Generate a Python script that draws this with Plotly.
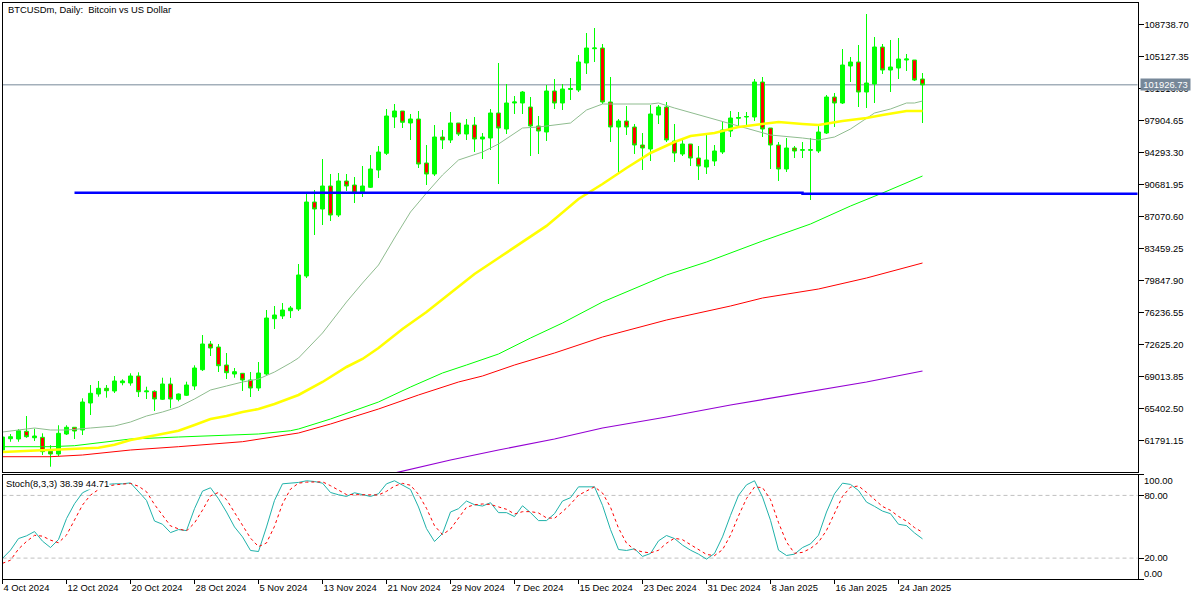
import pandas as pd
import plotly.graph_objects as go

# daily candles, 4 Oct 2024 -> 27 Jan 2025
dates = pd.date_range("2024-10-04", periods=116)

open_ = [60718, 61990, 61959, 62830, 62100, 62150, 60570, 60266, 62523, 63280,
         62974, 66020, 67037, 67680, 67376, 68310, 68278, 69068, 67285, 67340,
         66440, 68166, 66440, 66890, 67940, 69780, 72680, 72340, 70310, 69294,
         69372, 68617, 67714, 69294, 75534, 75839, 76437, 76629, 80353, 88704,
         87914, 90510, 87237, 91074, 90623, 89720, 90363, 92315, 94200, 98296,
         98974, 97620, 98071, 93105, 91864, 96040, 95701, 97620, 96378, 97394,
         95814, 95927, 98748, 96942, 99876, 99876, 99425, 97281, 96604, 101231,
         99876, 101400, 101344, 104390, 106004, 106083, 99989, 97168, 97845, 97168,
         95137, 94685, 98523, 99425, 95588, 94121, 95250, 93670, 92654, 93331,
         94347, 96716, 98150, 98296, 98296, 102246, 97055, 95137, 92428, 94798,
         94540, 94540, 94460, 96491, 100554, 99876, 104052, 104503, 101118, 102021,
         106196, 103601, 103826, 104729, 104729, 102585]
high = [62240, 62520, 63087, 64554, 63120, 62600, 61260, 63510, 63510, 63280,
        66552, 68053, 68504, 68053, 69068, 68695, 69372, 69486, 67860, 67455,
        68876, 68876, 67093, 68425, 70276, 73695, 73018, 72680, 71664, 69971,
        69372, 69520, 70648, 76517, 76968, 77306, 76968, 81708, 89607, 90059,
        93557, 91864, 91977, 91864, 91525, 92767, 94008, 95023, 99199, 99764,
        98974, 98635, 98974, 95137, 97394, 96830, 98861, 97620, 98071, 98296,
        96491, 99199, 104390, 102021, 100666, 101231, 100554, 98409, 101908, 102585,
        102021, 102698, 105293, 107776, 108340, 106535, 102811, 98071, 99538, 97507,
        96491, 99651, 99651, 99989, 97507, 95701, 95250, 95023, 96265, 95137,
        97845, 98974, 98861, 98861, 102585, 102811, 97055, 95475, 95927, 95023,
        95475, 95927, 97281, 100779, 101005, 105970, 105068, 106422, 109920, 107325,
        106535, 106986, 107212, 105406, 104729, 103262]
low = [60650, 61650, 61650, 62090, 61730, 60150, 58830, 60040, 62410, 61959,
       62410, 64667, 66733, 66620, 67150, 68020, 67975, 66698, 66474, 65118,
       66360, 65424, 66213, 66811, 67490, 69633, 71325, 69520, 68730, 68876,
       67376, 66698, 67376, 69181, 74372, 75501, 75614, 76404, 80127, 84980,
       86109, 86560, 87011, 89946, 88591, 89268, 90284, 91413, 94008, 97055,
       97055, 95701, 92541, 90623, 91638, 94685, 95363, 96152, 95701, 94347,
       93557, 94573, 90736, 96378, 98635, 98635, 93895, 94121, 95588, 99199,
       99087, 100215, 101118, 103149, 104503, 99764, 95475, 92090, 96265, 94121,
       92315, 93331, 97507, 95475, 93218, 93895, 92767, 91187, 91864, 92767,
       94121, 96040, 97168, 97394, 97845, 96040, 92428, 91074, 92090, 93670,
       93670, 88930, 94234, 96378, 97168, 99764, 102246, 99425, 99312, 99876,
       103149, 101118, 102585, 103488, 102359, 97619]
close = [62184, 62220, 62890, 62220, 62297, 60530, 60266, 62600, 63280, 62860,
         66134, 67116, 67680, 67410, 68504, 68504, 69068, 67296, 67376, 66474,
         68166, 66474, 67037, 68053, 69971, 72680, 72228, 70230, 69440, 69555,
         68617, 67714, 69407, 75614, 75952, 76517, 76742, 80466, 88704, 87914,
         90510, 87237, 91074, 90510, 89720, 90510, 92428, 94347, 98409, 98974,
         97698, 98071, 92993, 91864, 96040, 95701, 97620, 96378, 97394, 95814,
         96040, 98748, 97055, 99876, 99989, 101118, 97281, 96716, 101231, 99876,
         101456, 101513, 104503, 106083, 106083, 99989, 97168, 97845, 97168, 95137,
         94798, 98635, 99425, 95701, 94234, 95250, 93670, 92767, 93444, 94460,
         96830, 98184, 98240, 98353, 102246, 96942, 95137, 92428, 94798, 94460,
         94610, 94610, 96604, 100554, 99876, 104165, 104503, 101118, 102133, 106196,
         103601, 103939, 104842, 104842, 102472, 101926.73]

# moving averages, read at the bars listed in the *_bars lists
ma_gray_bars = [0, 4, 6, 8, 11, 14, 16, 18, 20, 22, 24, 26, 28, 30, 32, 34, 36, 37, 40, 43, 45, 47, 49, 51, 53, 55,
                57, 60, 62, 65, 67, 71, 73, 75, 81, 82, 84, 88, 90, 92, 94, 96, 100, 102, 104, 106, 109, 111, 113, 114, 115]
ma_gray = [62749, 63200, 62974, 62974, 63200, 63426, 63877, 64554, 65006, 65570, 66474, 67489, 67940, 68392, 68730,
           69520, 70535, 71100, 73921, 77420, 79559, 81595, 84642, 87576, 89720, 91751,
           93444, 94347, 95250, 97055, 97168, 97620, 99087, 99764, 99764, 99876, 99312, 98296, 97732, 97281, 96716,
           96265, 95927, 95701, 96040, 96942, 98748, 99199, 99876, 99876, 100102]
ma_yellow_bars = [0, 6, 10, 12, 14, 16, 18, 20, 22, 24, 26, 28, 30, 32, 34, 36, 37, 40, 43, 45, 47, 50, 53, 56, 59,
                  62, 65, 68, 72, 75, 78, 81, 84, 86, 89, 92, 94, 97, 100, 102, 105, 108, 110, 113, 115]
ma_yellow = [60492, 60718, 60865, 60977, 61316, 61846, 62184, 62523, 62895, 63538, 64215, 64554, 65006, 65345, 65911,
             66587, 66926, 68392, 70084, 70987, 72228, 74372, 76291, 78436, 80579,
             82385, 84190, 86006, 89043, 90736, 92541, 94234, 95475, 96152, 96491, 97168, 97394, 97732, 97507, 97394,
             97845, 98184, 98523, 98974, 98974]
ma_lime_bars = [0, 6, 9, 12, 16, 22, 26, 32, 36, 37, 41, 47, 51, 55, 58, 62, 66, 70, 75, 83, 88, 95, 101, 106, 110, 115]
ma_lime = [61090, 61090, 61203, 61507, 61959, 62184, 62330, 62523, 62895, 63087, 64215, 66134, 67827, 69407, 70310,
           71551, 73357, 75049, 77420, 80466, 81933, 84303, 86222, 88253, 89720, 91638]
ma_red_bars = [0, 6, 10, 16, 22, 30, 37, 41, 47, 52, 57, 60, 64, 69, 75, 83, 91, 95, 102, 108, 115]
ma_red = [59961, 59961, 60153, 60718, 61090, 61655, 62636, 63652, 65345, 66926, 68392, 69068, 70310, 71664, 73469,
          75388, 76968, 77871, 78885, 80128, 81821]
ma_purple_bars = [49, 56, 62, 69, 75, 83, 91, 100, 108, 115]
ma_purple = [58120, 59589, 60718, 61959, 63200, 64441, 65796, 67150, 68392, 69633]

support_x = ["2024-10-13", "2025-01-12", "2025-01-12", "2025-02-23"]
support_y = [89753, 89753, 89641, 89641]
last_price = 101926.73

stoch_k = [19.7, 27.6, 38.7, 41.3, 45.4, 36.2, 30.1, 37.8, 57.8, 72, 82.5, 86.3, 88.6, 90.5, 91.1, 91.1, 92, 83.2,
           75.2, 55.5, 52.4, 44.4, 47.3, 46.3, 67.3, 84.1, 87.3, 76.8, 64.1, 49.8, 40.3, 27.3, 26.3, 49.8, 75.2,
           91.1, 91.7, 92.4, 94, 93.3, 91.7, 82.8, 80.6, 79, 82.5, 80.6, 79, 81.6, 91.1, 94, 89.5, 85.7, 68.9, 48.2,
           35.9, 43.5, 64.1, 67.3, 74.6, 71.1, 69.8, 73, 63.5, 63.5, 59.7, 70.1, 63.5, 55.9, 55.9, 62.5, 74.6, 77.8,
           88.2, 88.2, 88.2, 70.5, 47.3, 28.2, 27.3, 28.9, 21.6, 24.4, 36.5, 41.6, 38.7, 32.4, 27.6, 23.8, 19, 24.4,
           40.3, 60.9, 80, 90.1, 94, 78.4, 56.2, 27.6, 22.5, 23.8, 30.1, 33.6, 41.9, 64.1, 81.6, 91.7, 90.5, 84.7,
           73.6, 69.5, 65, 62.5, 52.4, 51.1, 44.1, 38.39]
stoch_d = [15, 18, 28.7, 35.9, 41.8, 41, 37.2, 34.7, 42, 55.9, 70.8, 80.3, 85.6, 88.5, 90.1, 90.8, 91.4, 88.8, 83.5,
           71.3, 61.1, 50.8, 48, 46, 53.6, 65.9, 79.6, 82.8, 76, 63.6, 51.4, 39.1, 31, 34.5, 50.4, 72, 86, 91.7, 92.7,
           93.2, 93, 89.3, 85, 80.8, 80.7, 80.7, 80.7, 80.4, 83.9, 88.9, 91.5, 89.7, 81, 67.6, 51, 42.5, 47.8, 58.3,
           68.7, 71, 71.8, 71.3, 68.8, 66.7, 62.2, 64.4, 64.5, 63.2, 58.5, 58.1, 64.3, 71.6, 80.2, 84.6, 88.2, 82.3,
           68.7, 48.7, 34.3, 28.1, 25.9, 25, 27.5, 34.2, 39, 37.6, 32.9, 28, 23.5, 22.4, 28, 41.9, 60.4, 77, 88, 87.5,
           76, 54, 35.4, 24.6, 25.5, 29.2, 35.2, 46.5, 62.5, 79.1, 87.9, 89, 82.9, 75.9, 69.4, 65.7, 59.9, 55.3, 49.2,
           44.71]

price_ticks = [108738.70, 105127.35, 101516.00, 97904.65, 94293.30, 90681.95, 87070.60, 83459.25, 79847.90, 76236.55,
               72625.20, 69013.85, 65402.50, 61791.15]
stoch_ticks = [100, 80, 20, 0]
stoch_tick_text = ["", "80.00", "20.00", ""]
date_ticks = ["2024-10-04", "2024-10-12", "2024-10-20", "2024-10-28", "2024-11-05", "2024-11-13", "2024-11-21",
              "2024-11-29", "2024-12-07", "2024-12-15", "2024-12-23", "2024-12-31", "2025-01-08", "2025-01-16",
              "2025-01-24"]
date_labels = ["4 Oct 2024", "12 Oct 2024", "20 Oct 2024", "28 Oct 2024", "5 Nov 2024", "13 Nov 2024", "21 Nov 2024",
               "29 Nov 2024", "7 Dec 2024", "15 Dec 2024", "23 Dec 2024", "31 Dec 2024", "8 Jan 2025", "16 Jan 2025",
               "24 Jan 2025"]

FONT = "Liberation Sans"
FONT_SIZE = 9.4
W, H = 1200, 600


def px(x):
    return x / W


def py(y):
    return 1 - y / H


fig = go.Figure()

fig.add_trace(go.Candlestick(
    x=dates, open=open_, high=high, low=low, close=close,
    increasing=dict(line=dict(color="#00ff00", width=1), fillcolor="#00ff00"),
    decreasing=dict(line=dict(color="#00ff00", width=1), fillcolor="#ff0000"),
    whiskerwidth=0, xaxis="x", yaxis="y", showlegend=False))

for bars, vals, color, width in [(ma_purple_bars, ma_purple, "#9400d3", 1.2),
                                 (ma_red_bars, ma_red, "#ff0000", 1),
                                 (ma_lime_bars, ma_lime, "#00ff00", 1),
                                 (ma_gray_bars, ma_gray, "#8fbc8f", 1),
                                 (ma_yellow_bars, ma_yellow, "#ffff00", 2.6)]:
    fig.add_trace(go.Scatter(x=dates[bars], y=vals, mode="lines", line=dict(color=color, width=width),
                             xaxis="x", yaxis="y", showlegend=False))

fig.add_trace(go.Scatter(x=support_x, y=support_y, mode="lines", line=dict(color="#0000ff", width=2.5),
                         xaxis="x", yaxis="y", showlegend=False))

fig.add_trace(go.Scatter(x=dates, y=stoch_k, mode="lines", line=dict(color="#20b2aa", width=1),
                         xaxis="x2", yaxis="y2", showlegend=False))
fig.add_trace(go.Scatter(x=dates, y=stoch_d, mode="lines", line=dict(color="#ff0000", width=1, dash="3px,3px"),
                         xaxis="x2", yaxis="y2", showlegend=False))

fig.add_shape(type="line", xref="x domain", yref="y", x0=0, x1=1, y0=last_price, y1=last_price,
              line=dict(color="#778899", width=1), layer="below")
for level in [80, 20]:
    fig.add_shape(type="line", xref="x2 domain", yref="y2", x0=0, x1=1, y0=level, y1=level,
                  line=dict(color="#c0c0c0", width=1, dash="4px,3px"), layer="below")

x_range = ["2024-10-04", "2025-02-22 21:00"]
axis_common = dict(showline=True, linecolor="black", linewidth=1, mirror=True, showgrid=False, zeroline=False)
fig.update_layout(
    width=W, height=H, autosize=False,
    margin=dict(l=0, r=0, t=0, b=0),
    paper_bgcolor="white", plot_bgcolor="white",
    font=dict(family=FONT, size=FONT_SIZE, color="black"),
    boxgap=0.3,
    xaxis=dict(domain=[px(2.5), px(1137.5)], range=x_range, type="date", anchor="y", showticklabels=False,
               ticks="", rangeslider=dict(visible=False), **axis_common),
    yaxis=dict(domain=[py(472), py(2.5)], range=[58235, 111218], side="right", anchor="x", tickmode="array",
               tickvals=price_ticks, ticktext=[f"{t:.2f}" for t in price_ticks], ticks="outside", ticklen=5,
               tickcolor="black", ticklabelstandoff=-1, **axis_common),
    xaxis2=dict(domain=[px(2.5), px(1137.5)], range=x_range, type="date", anchor="y2", matches="x",
                tickmode="array", tickvals=date_ticks, ticktext=date_labels, ticks="outside", ticklen=4,
                tickcolor="black", tickangle=0, ticklabelposition="outside right", **axis_common),
    yaxis2=dict(domain=[py(579), py(474.5)], range=[0, 100], side="right", anchor="x2", tickmode="array",
                tickvals=stoch_ticks, ticktext=stoch_tick_text, ticks="outside", ticklen=5, tickcolor="black",
                ticklabelstandoff=-1, **axis_common),
)


def note(x, y, text, **kw):
    fig.add_annotation(xref="paper", yref="paper", x=px(x), y=py(y), text=text, showarrow=False,
                       xanchor="left", yanchor="middle", font=dict(family=FONT, size=FONT_SIZE, color="black"),
                       borderpad=0, **kw)


note(7, 9.5, "BTCUSDm, Daily:  Bitcoin vs US Dollar")
note(5, 483, "Stoch(8,3,3) 38.39 44.71", bgcolor="white")
note(1143, 480, "100.00")
note(1143, 573.5, "0.00")
fig.add_annotation(xref="paper", yref="y", x=px(1140), y=last_price, text="101926.73", showarrow=False,
                   xanchor="left", yanchor="middle", bgcolor="#778899", borderpad=0, width=49, height=11,
                   font=dict(family=FONT, size=FONT_SIZE, color="white"))

fig.write_html("out.html", config={"displayModeBar": False}, post_script="document.body.style.margin='0';")
